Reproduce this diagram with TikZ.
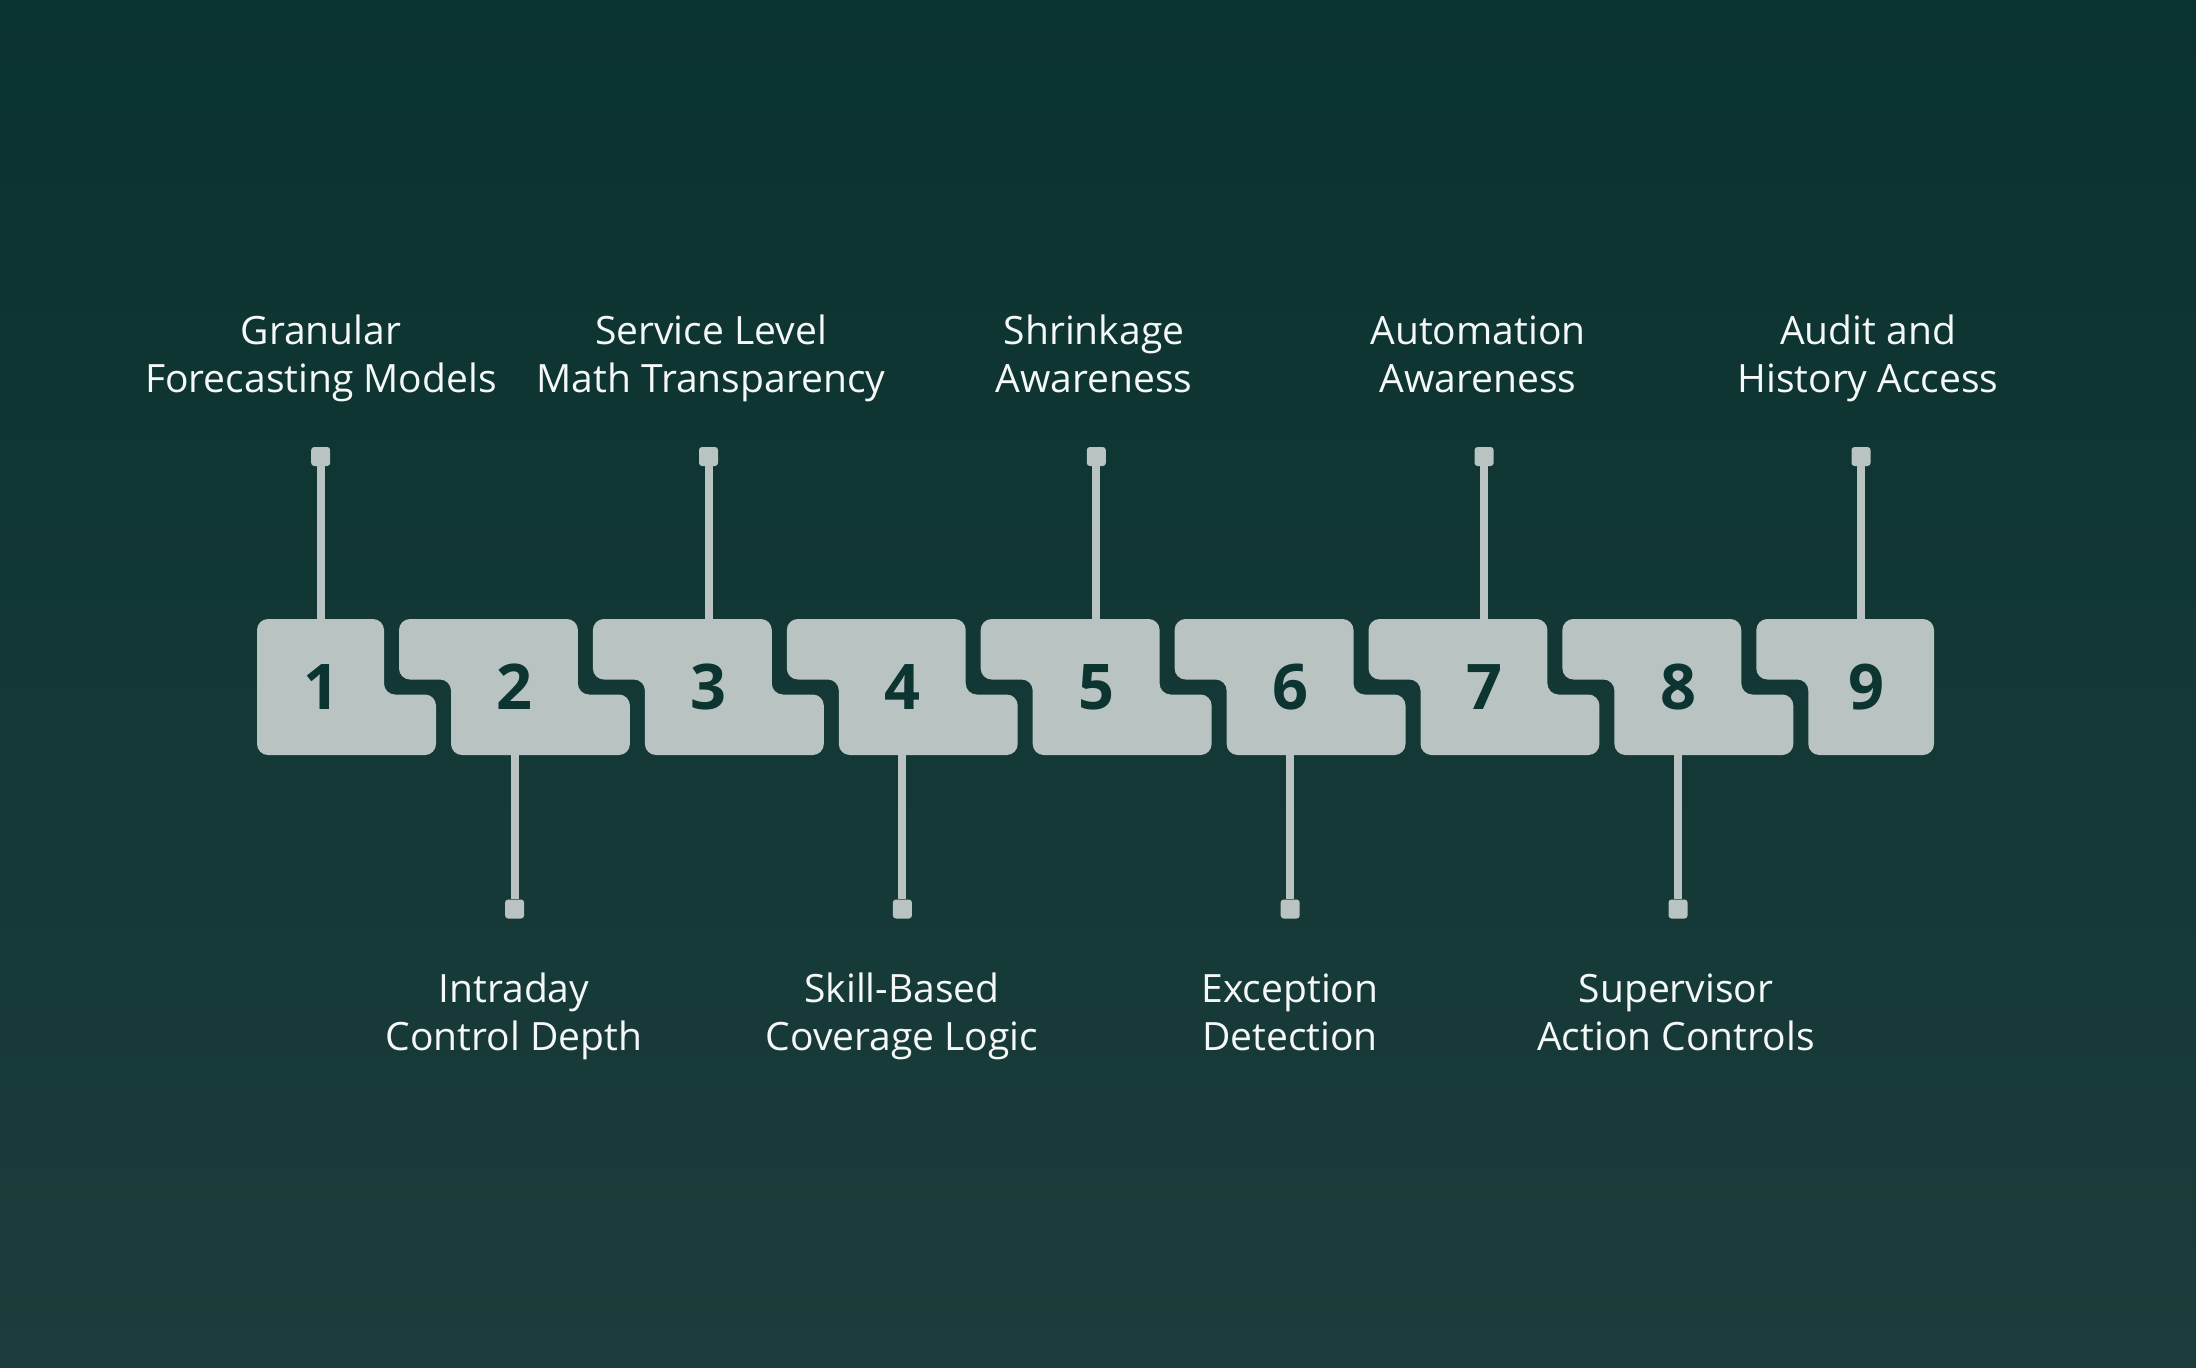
\documentclass[tikz,border=0pt]{standalone}
\usepackage{fontspec}
\setmainfont{Open Sans}
\usetikzlibrary{positioning}

\definecolor{bgtop}{RGB}{10,50,47}
\definecolor{bgbot}{RGB}{27,61,59}
\definecolor{tilegray}{RGB}{185,196,194}
\definecolor{digitgreen}{RGB}{12,52,49}
\definecolor{captionwhite}{RGB}{244,248,247}

\tikzset{
  tile/.style={fill=tilegray, rounded corners=11pt},
  digit/.style={text=digitgreen, font=\fontsize{63}{63}\selectfont\bfseries},
  pin/.style={fill=tilegray, rounded corners=3pt, minimum size=19pt, inner sep=0pt},
  stem/.style={draw=tilegray, line width=8pt},
  caption/.style={text=captionwhite, align=center, anchor=base, font=\fontsize{39}{47.5}\selectfont}
}

\begin{document}
\begin{tikzpicture}[x=1pt, y=-1pt]
  % background
  \shade[top color=bgtop, bottom color=bgbot] (0,0) rectangle (2196,1368);

  % puzzle pieces
  \fill[tile] (257,619) -- (384,619) -- (384,694.5) -- (436,694.5) -- (436,755) -- (257,755) -- cycle;
  \foreach \k in {2,...,8}
    {\pgfmathsetmacro{\cx}{321+193.9*(\k-1)}
     \fill[tile] (\cx-115.9,619) -- (\cx+63,619) -- (\cx+63,694.5) -- (\cx+115,694.5) -- (\cx+115,755)
       -- (\cx-63.9,755) -- (\cx-63.9,679.5) -- (\cx-115.9,679.5) -- cycle;}
  \fill[tile] (1756.3,619) -- (1934,619) -- (1934,755) -- (1808.3,755) -- (1808.3,679.5) -- (1756.3,679.5) -- cycle;

  % numbers
  \foreach \k in {1,...,8}
    {\node[digit] (n\k) at ({321+193.9*(\k-1)},687) {\k};}
  \node[digit] (n9) at (1866,687) {9};

  % pins above
  \foreach \x [count=\i] in {320.7,708.5,1096.3,1484.1,1861}
    {\node[pin] (up\i) at (\x,456.5) {};
     \coordinate (uptop\i) at (\x,619);
     \draw[stem] (uptop\i) -- (up\i);}
  % pins below
  \foreach \x [count=\i] in {514.6,902.4,1290.2,1678}
    {\node[pin] (down\i) at (\x,909) {};
     \coordinate (downbot\i) at (\x,755);
     \draw[stem] (downbot\i) -- (down\i);}

  % captions (base = last line)
  \foreach \x/\txt [count=\i] in {321/{Granular\\Forecasting Models}, 711/{Service Level\\Math Transparency},
      1094/{Shrinkage\\Awareness}, 1478/{Automation\\Awareness}, 1868/{Audit and\\History Access}}
    {\node[caption] (cap\i) at (\x,392) {\txt};}
  \foreach \x/\txt [count=\i] in {514/{Intraday\\Control Depth}, 902/{Skill-Based\\Coverage Logic},
      1290/{Exception\\Detection}, 1676/{Supervisor\\Action Controls}}
    {\node[caption] (sub\i) at (\x,1050) {\txt};}
\end{tikzpicture}
\end{document}
